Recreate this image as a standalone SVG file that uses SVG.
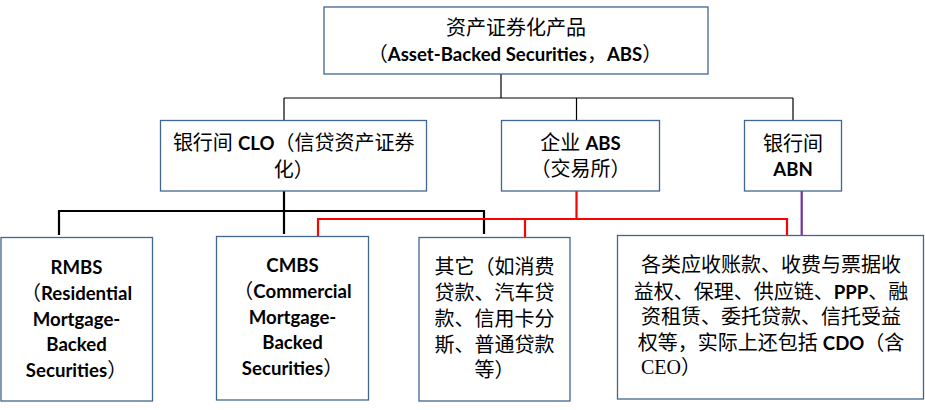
<svg xmlns="http://www.w3.org/2000/svg" width="925" height="410" viewBox="0 0 925 410">
<style>
.b{fill:#fff;stroke:#41668f;stroke-width:1.3}
.t{font-family:Lato,"Noto Sans CJK SC",sans-serif;font-size:20px;fill:#000;text-anchor:middle}
.s{text-anchor:start}
.e{font-weight:bold;font-size:18.6px}
.r{font-family:"Liberation Serif","Noto Sans CJK SC",serif;font-weight:normal;font-size:20px}
.k1{stroke:#000;stroke-width:1.2;fill:none}
.k2{stroke:#000;stroke-width:2.2;fill:none}
.rd{stroke:#ff0000;stroke-width:2.2;fill:none}
.pu{stroke:#7030a0;stroke-width:2.2;fill:none}
</style>
<rect width="925" height="410" fill="#fff"/>
<g id="connectors">
<path class="k1" d="M501 74V98M284 98H793M284 98V121M576.5 98V121M793 98V121"/>
<path class="k2" d="M284 191V234M59 211H484M59 210V235M484 210V234"/>
<path class="rd" d="M576.5 191V219M318 219H787M318 218V237M525 218V237M787 218V236"/>
<path class="pu" d="M801.7 191V236"/>
</g>
<g id="abs">
<rect class="b" x="324" y="7" width="384" height="67"/>
<text class="t" x="516" y="35">资产证券化产品</text>
<text class="t" x="515" y="61">（<tspan class="e">Asset-Backed Securities</tspan>，<tspan class="e">ABS</tspan>）</text>
</g>
<g id="clo">
<rect class="b" x="160.5" y="120.5" width="266" height="70.5"/>
<text class="t" x="293.7" y="150">银行间 <tspan class="e">CLO</tspan>（信贷资产证券</text>
<text class="t" x="293.7" y="176.5">化）</text>
</g>
<g id="corp-abs">
<rect class="b" x="501.5" y="120.5" width="158" height="70.5"/>
<text class="t" x="580.5" y="150">企业 <tspan class="e">ABS</tspan></text>
<text class="t" x="580.5" y="176">（交易所）</text>
</g>
<g id="abn">
<rect class="b" x="744.5" y="120.5" width="97" height="70.5"/>
<text class="t" x="793" y="150.5">银行间</text>
<text class="t" x="793" y="175.5"><tspan class="e">ABN</tspan></text>
</g>
<g id="rmbs">
<rect class="b" x="1" y="237.5" width="151.5" height="163.5"/>
<text class="t" x="76.5" y="274"><tspan class="e">RMBS</tspan></text>
<text class="t" x="76.5" y="300">（<tspan class="e">Residential</tspan></text>
<text class="t" x="76.5" y="325.5"><tspan class="e">Mortgage-</tspan></text>
<text class="t" x="76.5" y="351"><tspan class="e">Backed</tspan></text>
<text class="t" x="76.5" y="377"><tspan class="e">Securities</tspan>）</text>
</g>
<g id="cmbs">
<rect class="b" x="216.5" y="236.5" width="152" height="163.5"/>
<text class="t" x="292.5" y="272"><tspan class="e">CMBS</tspan></text>
<text class="t" x="292.5" y="298">（<tspan class="e">Commercial</tspan></text>
<text class="t" x="292.5" y="323.5"><tspan class="e">Mortgage-</tspan></text>
<text class="t" x="292.5" y="349"><tspan class="e">Backed</tspan></text>
<text class="t" x="292.5" y="375"><tspan class="e">Securities</tspan>）</text>
</g>
<g id="other">
<rect class="b" x="419" y="237.5" width="151" height="163.5"/>
<text class="t" x="494.5" y="274">其它（如消费</text>
<text class="t" x="494.5" y="300">贷款、汽车贷</text>
<text class="t" x="494.5" y="326">款、信用卡分</text>
<text class="t" x="494.5" y="351.5">斯、普通贷款</text>
<text class="t" x="494.5" y="377">等）</text>
</g>
<g id="receivables">
<rect class="b" x="617.5" y="235.5" width="306" height="163.5"/>
<text class="t" x="771" y="272">各类应收账款、收费与票据收</text>
<text class="t" x="771" y="298.5">益权、保理、供应链、<tspan class="e">PPP</tspan>、融</text>
<text class="t" x="771" y="323.5">资租赁、委托贷款、信托受益</text>
<text class="t" x="771" y="349.5">权等，实际上还包括 <tspan class="e">CDO</tspan>（含</text>
<text class="t s" x="641" y="374"><tspan class="r">CEO</tspan>）</text>
</g>
</svg>
